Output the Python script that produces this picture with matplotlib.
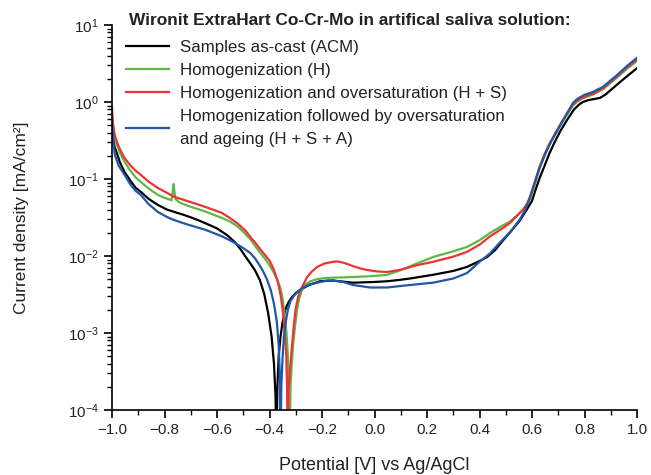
import numpy as np
import matplotlib
matplotlib.use("Agg")
import matplotlib.pyplot as plt
from matplotlib.ticker import LogLocator, MultipleLocator, NullFormatter

plt.rcParams['font.family'] = ['Liberation Sans', 'DejaVu Sans']
plt.rcParams['mathtext.fontset'] = 'custom'
plt.rcParams['mathtext.rm'] = 'Liberation Sans'
plt.rcParams['mathtext.it'] = 'Liberation Sans:italic'
plt.rcParams['mathtext.bf'] = 'Liberation Sans:bold'

# Potential [V] and current density [mA/cm2]
acm_E = [-1.000, -0.997, -0.990, -0.981, -0.970, -0.952, -0.930, -0.910, -0.890,
         -0.860, -0.825, -0.790, -0.762, -0.730, -0.700, -0.670, -0.646, -0.620,
         -0.600, -0.560, -0.531, -0.510, -0.493, -0.475, -0.455, -0.436, -0.420,
         -0.405, -0.392, -0.383, -0.377, -0.374, -0.370, -0.365, -0.358, -0.350,
         -0.340, -0.328, -0.315, -0.300, -0.284, -0.250, -0.208, -0.158, -0.082,
         0.000, 0.048, 0.097, 0.135, 0.223, 0.300, 0.352, 0.400, 0.429, 0.460,
         0.490, 0.520, 0.554, 0.580, 0.600, 0.615, 0.630, 0.646, 0.665, 0.684,
         0.708, 0.733, 0.760, 0.780, 0.794, 0.815, 0.835, 0.859, 0.880, 0.909,
         0.950, 1.000]
acm_i = [0.50, 0.36, 0.26, 0.215, 0.165, 0.123, 0.095, 0.077, 0.068,
         0.055, 0.046, 0.040, 0.0373, 0.0345, 0.0318, 0.0290, 0.0268, 0.0245,
         0.0228, 0.0185, 0.0150, 0.0122, 0.0100, 0.0082, 0.0065, 0.0048, 0.0032,
         0.0018, 0.0009, 0.0004, 0.00015, 3e-5, 0.0002, 0.0005, 0.0009, 0.0014,
         0.0020, 0.0025, 0.0029, 0.0033, 0.0036, 0.0042, 0.0047, 0.0048, 0.0045,
         0.0046, 0.0047, 0.0049, 0.0051, 0.0057, 0.0064, 0.0072, 0.0086, 0.0097, 0.0120,
         0.0160, 0.021, 0.029, 0.040, 0.052, 0.075, 0.105, 0.143, 0.21, 0.29,
         0.42, 0.58, 0.80, 0.93, 1.00, 1.06, 1.09, 1.13, 1.25, 1.52,
         2.00, 2.75]

h_E = [-1.000, -0.996, -0.990, -0.985, -0.970, -0.952, -0.930, -0.910, -0.890,
       -0.860, -0.825, -0.800, -0.780, -0.773, -0.769, -0.765, -0.762, -0.758,
       -0.745, -0.720, -0.690, -0.646, -0.615, -0.581, -0.550, -0.520, -0.490,
       -0.470, -0.455, -0.435, -0.417, -0.400, -0.385, -0.372, -0.360, -0.350,
       -0.342, -0.335, -0.330, -0.326, -0.323, -0.320, -0.315, -0.310, -0.303,
       -0.295, -0.287, -0.278, -0.265, -0.245, -0.220, -0.180, -0.100, 0.000,
       0.048, 0.097, 0.162, 0.223, 0.300, 0.352, 0.400, 0.440, 0.480, 0.516,
       0.545, 0.566, 0.582, 0.598, 0.612, 0.628, 0.647, 0.667, 0.692, 0.716,
       0.740, 0.756, 0.772, 0.790, 0.810, 0.832, 0.850, 0.870, 0.895, 0.924,
       0.960, 1.000]
h_i = [0.65, 0.50, 0.37, 0.30, 0.22, 0.166, 0.128, 0.105, 0.0914,
       0.075, 0.062, 0.057, 0.054, 0.053, 0.068, 0.086, 0.068, 0.055,
       0.050, 0.046, 0.0425, 0.0380, 0.0345, 0.0312, 0.028, 0.0240, 0.0190,
       0.0160, 0.0135, 0.0110, 0.0092, 0.0076, 0.0062, 0.0050, 0.0040, 0.0028,
       0.0017, 0.0010, 0.0005, 0.0002, 3e-5, 0.0002, 0.0004, 0.0007, 0.0012,
       0.0020, 0.0028, 0.0035, 0.0042, 0.0047, 0.0050, 0.0052, 0.0053, 0.0055,
       0.0057, 0.0065, 0.0080, 0.0097, 0.0115, 0.0131, 0.0160, 0.0199, 0.024, 0.028,
       0.034, 0.040, 0.047, 0.060, 0.088, 0.135, 0.20, 0.28, 0.40, 0.55,
       0.74, 0.90, 1.01, 1.10, 1.17, 1.25, 1.34, 1.46, 1.72, 2.08,
       2.68, 3.40]

hs_E = [-1.000, -0.997, -0.993, -0.990, -0.977, -0.965, -0.952, -0.930, -0.910,
        -0.890, -0.860, -0.825, -0.790, -0.762, -0.730, -0.700, -0.670, -0.646,
        -0.615, -0.581, -0.550, -0.520, -0.490, -0.470, -0.455, -0.435, -0.417,
        -0.398, -0.383, -0.368, -0.357, -0.349, -0.342, -0.336, -0.333, -0.331,
        -0.327, -0.320, -0.314, -0.307, -0.300, -0.290, -0.280, -0.272, -0.257,
        -0.240, -0.219, -0.190, -0.158, -0.140, -0.120, -0.100, -0.082, -0.055,
        -0.030, 0.010, 0.048, 0.097, 0.162, 0.223, 0.300, 0.352, 0.400, 0.440,
        0.480, 0.516, 0.545, 0.566, 0.580, 0.595, 0.610, 0.626, 0.645, 0.665,
        0.690, 0.715, 0.738, 0.756, 0.772, 0.790, 0.810, 0.832, 0.850, 0.870,
        0.895, 0.924, 0.960, 1.000]
hs_i = [0.84, 0.55, 0.42, 0.373, 0.277, 0.225, 0.187, 0.150, 0.128,
        0.113, 0.092, 0.0764, 0.066, 0.0584, 0.0540, 0.0500, 0.0465, 0.0435,
        0.0400, 0.0362, 0.031, 0.0262, 0.021, 0.0172, 0.0150, 0.0122, 0.0103,
        0.0085, 0.0066, 0.0046, 0.0030, 0.0019, 0.0010, 0.0005, 0.0002, 3e-5,
        0.0002, 0.0004, 0.0007, 0.0013, 0.0021, 0.0030, 0.0037, 0.0042, 0.0053,
        0.0062, 0.0072, 0.0080, 0.0084, 0.0085, 0.0082, 0.0078, 0.0074, 0.0069,
        0.0066, 0.0063, 0.0062, 0.0066, 0.0076, 0.0084, 0.0098, 0.0113, 0.0140, 0.0180,
        0.022, 0.0268, 0.034, 0.040, 0.047, 0.060, 0.088, 0.135, 0.20, 0.28,
        0.40, 0.56, 0.75, 0.93, 1.04, 1.13, 1.20, 1.28, 1.38, 1.50,
        1.78, 2.15, 2.78, 3.55]

hsa_E = [-1.000, -0.997, -0.993, -0.989, -0.975, -0.952, -0.930, -0.910, -0.890,
         -0.860, -0.825, -0.790, -0.771, -0.740, -0.710, -0.680, -0.646, -0.610,
         -0.581, -0.543, -0.510, -0.493, -0.474, -0.455, -0.440, -0.425, -0.410,
         -0.395, -0.383, -0.372, -0.365, -0.361, -0.358, -0.355, -0.350, -0.345,
         -0.338, -0.330, -0.320, -0.305, -0.290, -0.272, -0.245, -0.219, -0.180,
         -0.158, -0.120, -0.082, -0.017, 0.048, 0.135, 0.223, 0.300, 0.352, 0.402,
         0.440, 0.478, 0.520, 0.554, 0.575, 0.592, 0.610, 0.630, 0.650, 0.669,
         0.695, 0.718, 0.740, 0.756, 0.770, 0.783, 0.800, 0.815, 0.832, 0.850,
         0.870, 0.895, 0.924, 0.960, 1.000]
hsa_i = [0.55, 0.40, 0.27, 0.205, 0.150, 0.113, 0.085, 0.070, 0.062,
         0.047, 0.0373, 0.0320, 0.0300, 0.0275, 0.0255, 0.0238, 0.0220, 0.0197,
         0.0180, 0.0155, 0.0133, 0.0122, 0.0110, 0.0093, 0.0078, 0.0064, 0.0050,
         0.0036, 0.0024, 0.0014, 0.0007, 0.0003, 3e-5, 0.0002, 0.0005, 0.0009,
         0.0014, 0.0020, 0.0026, 0.0031, 0.0035, 0.0039, 0.0043, 0.0045, 0.0048,
         0.0048, 0.0046, 0.0042, 0.0039, 0.0039, 0.0042, 0.0045, 0.0051, 0.0060, 0.0085,
         0.0108, 0.0150, 0.021, 0.030, 0.040, 0.058, 0.090, 0.143, 0.21, 0.29,
         0.42, 0.58, 0.78, 0.97, 1.08, 1.15, 1.24, 1.29, 1.35, 1.45,
         1.57, 1.85, 2.24, 2.90, 3.75]

legend_title = 'Wironit ExtraHart Co-Cr-Mo in artifical saliva solution:'
labels = ['Samples as-cast (ACM)',
          'Homogenization (H)',
          'Homogenization and oversaturation (H + S)',
          'Homogenization followed by oversaturation\nand ageing (H + S + A)']
colors = ['#000000', '#5cb947', '#ee3333', '#2156a8']

fig = plt.figure(figsize=(6.51, 4.75), dpi=100)
ax = fig.add_axes([112 / 651, 1 - 410 / 475, 525 / 651, 385 / 475])

series = [(acm_E, acm_i), (h_E, h_i), (hs_E, hs_i), (hsa_E, hsa_i)]
for (E, i), lab, c in zip(series, labels, colors):
    ax.plot(E, i, color=c, lw=1.6, label=lab, solid_joinstyle='round')

ax.set_yscale('log')
ax.set_xlim(-1.0, 1.0)
ax.set_ylim(1e-4, 1e1)
ax.xaxis.set_major_locator(MultipleLocator(0.2))
ax.xaxis.set_minor_locator(MultipleLocator(0.1))
ax.yaxis.set_major_locator(LogLocator(base=10, numticks=10))
ax.yaxis.set_minor_locator(LogLocator(base=10, subs=np.arange(2, 10), numticks=10))
ax.yaxis.set_minor_formatter(NullFormatter())
ax.xaxis.set_major_formatter(plt.FuncFormatter(lambda v, p: f'{v:.1f}'.replace('-', '\u2212')))

ax.spines['top'].set_visible(False)
ax.spines['right'].set_visible(False)
for s in ['left', 'bottom']:
    ax.spines[s].set_linewidth(1.2)
ax.tick_params(which='major', direction='out', length=6, width=1.2, labelsize=11,
               colors='black', labelcolor='#222222')
ax.tick_params(which='minor', direction='out', length=3.5, width=1.0)

ax.set_xlabel('Potential [V] vs Ag/AgCl', fontsize=13, labelpad=14, color='#222222')
ax.set_ylabel('Current density [mA/cm\u00b2]', fontsize=12.5, labelpad=28, color='#222222')

# bold heading above the legend entries
ax.text((129 - 112) / 525, (410 - 20) / 385, legend_title, transform=ax.transAxes,
        fontsize=12.4, fontweight='bold', color='#222222', ha='left', va='center')

leg = ax.legend(loc='upper left', bbox_to_anchor=(0.027, 0.962), frameon=False,
                fontsize=12.2, handlelength=2.5, handletextpad=0.7, labelspacing=0.47,
                borderpad=0, borderaxespad=0)
for t in leg.get_texts():
    t.set_color('#222222')
    t.set_linespacing(1.7)

fig.savefig('out.png', dpi=100)
